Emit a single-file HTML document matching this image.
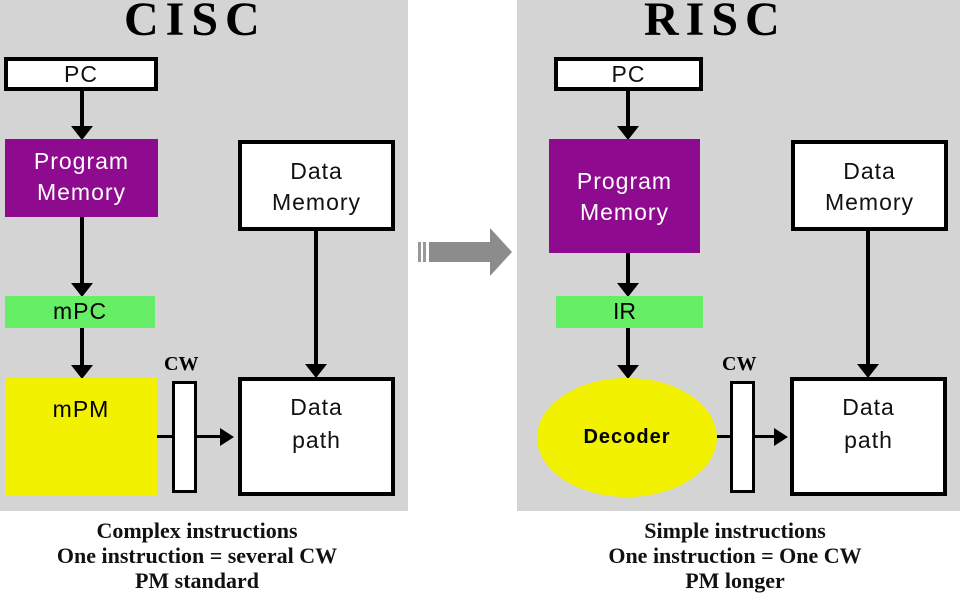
<!DOCTYPE html>
<html><head><style>
body{margin:0;width:960px;height:600px;background:#fff;position:relative;overflow:hidden;font-family:"Liberation Sans",sans-serif}
.a{position:absolute;box-sizing:border-box}
.panel{background:#d4d4d4}
.box{background:#fff;border:4px solid #000;text-align:center;font-size:23px;color:#111;letter-spacing:1px}
.t{position:absolute;font-family:"Liberation Serif",serif;font-weight:bold;font-size:48px;letter-spacing:7px}
.cap{position:absolute;font-family:"Liberation Serif",serif;font-size:22px;text-align:center;line-height:25px;width:420px;font-weight:bold;color:#111}
.vl{position:absolute;width:4px;background:#000}
.hl{position:absolute;height:3px;background:#000}
.ad{position:absolute;width:0;height:0;border-left:11px solid transparent;border-right:11px solid transparent;border-top:14px solid #000}
.ar{position:absolute;width:0;height:0;border-top:9px solid transparent;border-bottom:9px solid transparent;border-left:14px solid #000}
</style></head><body>
<div class="a panel" style="left:0;top:0;width:408px;height:511px"></div>
<div class="a panel" style="left:517px;top:0;width:443px;height:511px"></div>
<div class="t" style="left:124px;top:-8px">CISC</div>
<div class="t" style="left:644px;top:-8px">RISC</div>

<!-- CISC -->
<div class="a box" style="left:4px;top:57px;width:154px;height:34px;line-height:26px">PC</div>
<div class="vl" style="left:80px;top:91px;height:38px"></div><div class="ad" style="left:71px;top:126px"></div>
<div class="a" style="left:5px;top:139px;width:153px;height:78px;background:#8e0a8e;color:#fff;font-size:23px;text-align:center;line-height:31px;padding-top:7px;letter-spacing:1px">Program<br>Memory</div>
<div class="vl" style="left:80px;top:217px;height:68px"></div><div class="ad" style="left:71px;top:283px"></div>
<div class="a" style="left:5px;top:296px;width:150px;height:32px;background:#66ee66;font-size:23px;text-align:center;line-height:30px;letter-spacing:1px">mPC</div>
<div class="vl" style="left:80px;top:328px;height:40px"></div><div class="ad" style="left:71px;top:365px"></div>
<div class="a" style="left:5px;top:378px;width:152px;height:117px;background:#f2f200;font-size:23px;text-align:center;padding-top:18px;letter-spacing:1px">mPM</div>
<div class="a" style="left:164px;top:353px;font-family:'Liberation Serif',serif;font-weight:bold;font-size:20px">CW</div>
<div class="a" style="left:172px;top:381px;width:25px;height:112px;background:#fff;border:3px solid #000"></div>
<div class="hl" style="left:157px;top:435px;width:15px"></div>
<div class="hl" style="left:197px;top:435px;width:26px"></div><div class="ar" style="left:220px;top:428px"></div>
<div class="a box" style="left:238px;top:377px;width:157px;height:119px;line-height:33px;padding-top:10px">Data<br>path</div>
<div class="a box" style="left:238px;top:140px;width:157px;height:91px;line-height:31px;padding-top:12px">Data<br>Memory</div>
<div class="vl" style="left:314px;top:231px;height:135px"></div><div class="ad" style="left:305px;top:364px"></div>
<div class="cap" style="left:-13px;top:518px">Complex instructions<br>One instruction = several CW<br>PM standard</div>

<!-- arrow -->
<div class="a" style="left:418px;top:242px;width:3px;height:20px;background:#999"></div>
<div class="a" style="left:423px;top:242px;width:3px;height:20px;background:#999"></div>
<div class="a" style="left:429px;top:242px;width:62px;height:20px;background:#8c8c8c"></div>
<div class="a" style="left:490px;top:228px;width:0;height:0;border-top:24px solid transparent;border-bottom:24px solid transparent;border-left:22px solid #8c8c8c"></div>

<!-- RISC -->
<div class="a box" style="left:554px;top:57px;width:149px;height:34px;line-height:26px">PC</div>
<div class="vl" style="left:626px;top:91px;height:38px"></div><div class="ad" style="left:617px;top:126px"></div>
<div class="a" style="left:549px;top:139px;width:151px;height:114px;background:#8e0a8e;color:#fff;font-size:23px;text-align:center;line-height:31px;padding-top:27px;letter-spacing:1px">Program<br>Memory</div>
<div class="vl" style="left:626px;top:253px;height:32px"></div><div class="ad" style="left:617px;top:283px"></div>
<div class="a" style="left:556px;top:296px;width:147px;height:32px;background:#66ee66;font-size:23px;text-align:center;line-height:30px;padding-right:10px">IR</div>
<div class="vl" style="left:626px;top:328px;height:40px"></div><div class="ad" style="left:617px;top:365px"></div>
<div class="a" style="left:537px;top:378px;width:180px;height:119px;border-radius:50%;background:#f2f200;font-size:20px;font-weight:bold;text-align:center;line-height:119px;letter-spacing:1px">Decoder</div>
<div class="a" style="left:722px;top:353px;font-family:'Liberation Serif',serif;font-weight:bold;font-size:20px">CW</div>
<div class="a" style="left:730px;top:381px;width:25px;height:112px;background:#fff;border:3px solid #000"></div>
<div class="hl" style="left:717px;top:435px;width:13px"></div>
<div class="hl" style="left:755px;top:435px;width:22px"></div><div class="ar" style="left:774px;top:428px"></div>
<div class="a box" style="left:790px;top:377px;width:157px;height:119px;line-height:33px;padding-top:10px">Data<br>path</div>
<div class="a box" style="left:791px;top:140px;width:157px;height:91px;line-height:31px;padding-top:12px">Data<br>Memory</div>
<div class="vl" style="left:866px;top:231px;height:135px"></div><div class="ad" style="left:857px;top:364px"></div>
<div class="cap" style="left:525px;top:518px">Simple instructions<br>One instruction = One CW<br>PM longer</div>
</body></html>
